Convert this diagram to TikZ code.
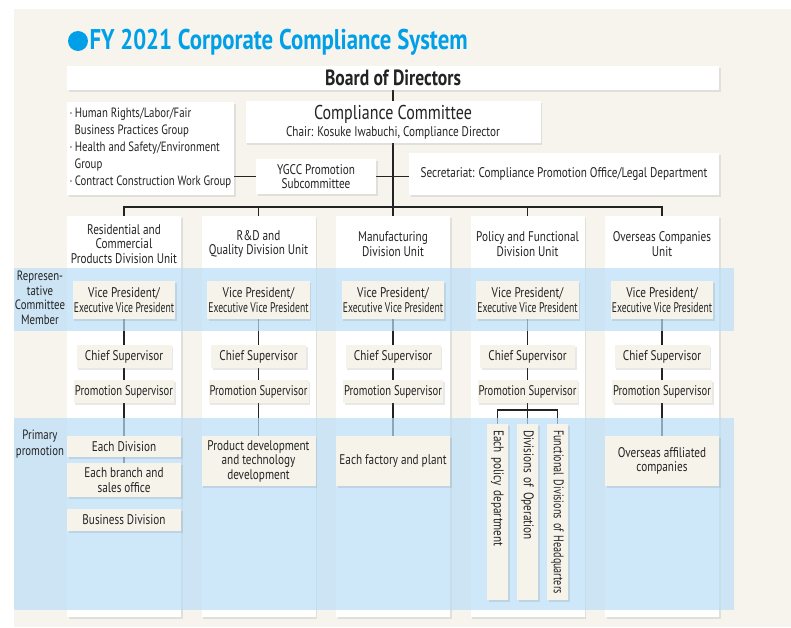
\documentclass[tikz,border=0pt]{standalone}
\usepackage{fontspec}
\setmainfont{PT Sans}[FakeStretch=0.8]
\usetikzlibrary{positioning,shadows}
\definecolor{paper}{RGB}{247,244,237}
\definecolor{boxfill}{RGB}{246,243,235}
\definecolor{bandblue}{RGB}{186,222,247}
\definecolor{titleblue}{RGB}{0,160,233}
\definecolor{ink}{RGB}{35,35,35}
\pgfdeclarelayer{back}
\pgfdeclarelayer{wires}
\pgfdeclarelayer{band}
\pgfsetlayers{back,wires,band,main}

\begin{document}
\begin{tikzpicture}[x=1pt,y=-1pt,
  every node/.style={text=ink,font=\fontsize{14}{14.5}\selectfont},
  shade/.style={drop shadow={shadow xshift=1.5pt,shadow yshift=-1.5pt,opacity=0.18}},
  panel/.style={fill=white,shade,inner sep=2pt,align=center},
  unitcol/.style={fill=white,shade,minimum width=114,minimum height=401},
  stepbox/.style={fill=boxfill,shade,minimum width=95,inner sep=1pt,align=center},
  primbox/.style={fill=boxfill,shade,minimum width=114,inner sep=1pt,align=center},
  vertbox/.style={fill=boxfill,shade,rotate=-90,minimum width=176,minimum height=21,text width=174,inner sep=1pt,align=left},
  wire/.style={draw=ink,line width=1.2pt},
  band/.style={fill=bandblue,opacity=0.7}
]
\useasboundingbox (0,0) rectangle (791,627);

\begin{pgfonlayer}{back}
\fill[paper] (14,9) rectangle (791,627);
\foreach \i/\x in {1/124,2/258.5,3/393,4/527.5,5/662}
  \node[unitcol] (col\i) at (\x,416.5) {};
\end{pgfonlayer}

\node[circle,fill=titleblue,minimum size=20,inner sep=0] (dot) at (78,41) {};
\node[anchor=west,text=titleblue,font=\bfseries\fontsize{28.5}{28}\selectfont] (title) at (86,42) {FY 2021 Corporate Compliance System};

\node[panel,minimum width=652,minimum height=24,font=\bfseries\fontsize{22}{22}\selectfont] (board) at (393,78) {Board of Directors};
\node[panel,minimum width=167,minimum height=93,align=left,font=\fontsize{13.5}{17}\selectfont] (groups) at (150.5,148.5)
  {·\,Human Rights/Labor/Fair\\\hspace*{5pt}Business Practices Group\\·\,Health and Safety/Environment\\\hspace*{5pt}Group\\·\,Contract Construction Work Group};
\node[panel,minimum width=295,minimum height=42,font=\fontsize{20}{17}\selectfont] (committee) at (393,122)
  {Compliance Committee\\{\fontsize{14}{13}\selectfont Chair: Kosuke Iwabuchi, Compliance Director}};
\node[panel,minimum width=120,minimum height=35] (ygcc) at (316,176.5) {YGCC Promotion\\Subcommittee};
\node[panel,minimum width=310,minimum height=42] (secr) at (564,174) {Secretariat: Compliance Promotion Office/Legal Department};
\coordinate (bus) at (393,207);

\node[align=center] (unit1) at (124,244) {Residential and\\Commercial\\Products Division Unit};
\node[align=center] (unit2) at (258.5,244) {R\&D and\\Quality Division Unit};
\node[align=center] (unit3) at (393,244) {Manufacturing\\Division Unit};
\node[align=center] (unit4) at (527.5,244) {Policy and Functional\\Division Unit};
\node[align=center] (unit5) at (662,244) {Overseas Companies\\Unit};

\foreach \i/\x in {1/124,2/258.5,3/393,4/527.5,5/662}{
  \node[stepbox,minimum height=38] (vp\i) at (\x,300) {Vice President/\\\scalebox{0.86}[1]{Executive Vice President}};
  \node[stepbox,minimum height=23] (chief\i) at (\x,356.5) {Chief Supervisor};
  \node[stepbox,minimum height=23] (promo\i) at (\x,391.5) {\scalebox{0.95}[1]{Promotion Supervisor}};
}

\node[primbox,minimum height=21] (eachdiv) at (124,446.5) {Each Division};
\node[primbox,minimum height=34] (branch) at (124,480) {Each branch and\\sales office};
\node[primbox,minimum height=22] (bizdiv) at (124,520) {Business Division};
\node[primbox,minimum height=50] (proddev) at (258.5,461) {Product development\\and technology\\development};
\node[primbox,minimum height=50] (factory) at (393,461) {Each factory and plant};
\node[primbox,minimum height=50] (affil) at (662,461) {Overseas affiliated\\companies};
\node[vertbox] (pol1) at (497.5,512) {\hspace*{5pt}Each policy department};
\node[vertbox] (pol2) at (527.5,512) {\hspace*{5pt}Divisions of Operation};
\node[vertbox] (pol3) at (557.5,512) {\hspace*{5pt}\scalebox{0.9}[1]{Functional Divisions of Headquarters}};
\coordinate (split) at (527.5,410);

\node[align=center,font=\fontsize{13.5}{14.5}\selectfont] (replabel) at (40,298) {Represen-\\tative\\Committee\\Member};
\node[align=center,font=\fontsize{13.5}{16}\selectfont] (primlabel) at (40,444) {Primary\\promotion};

\begin{pgfonlayer}{wires}
\draw[wire] (board.south) -- (bus);
\draw[wire] (groups.east |- ygcc.east) -- (ygcc.west);
\draw[wire] (ygcc.east) -- (secr.west |- ygcc.east);
\draw[wire] (col1.north) |- (bus) -| (col5.north);
\foreach \c in {col2,col3,col4}
  \draw[wire] (\c.north) -- (\c.north |- bus);
\foreach \i in {1,...,5}
  \draw[wire] (vp\i) -- (chief\i) -- (promo\i);
\draw[wire] (promo1) -- (eachdiv) -- (branch);
\draw[wire] (promo2) -- (proddev);
\draw[wire] (promo3) -- (factory);
\draw[wire] (promo5) -- (affil);
\draw[wire] (promo4) -- (split);
\draw[wire] (pol1.west) |- (split) -| (pol3.west);
\draw[wire] (split) -- (pol2.west);
\end{pgfonlayer}

\begin{pgfonlayer}{band}
\fill[band] (14,268) rectangle (734,331);
\fill[band] (14,418) rectangle (734,610);
\end{pgfonlayer}
\end{tikzpicture}
\end{document}
